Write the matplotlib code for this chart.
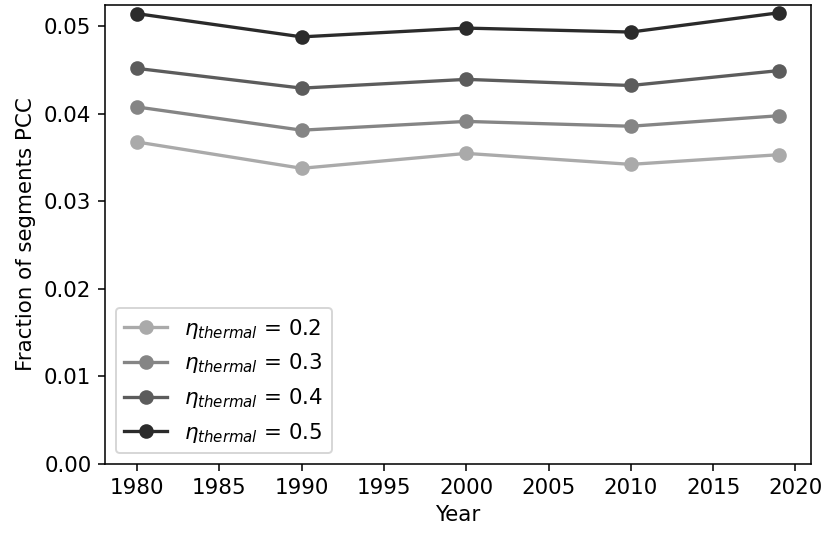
import matplotlib
matplotlib.use("Agg")
import matplotlib.pyplot as plt

years = [1980, 1990, 2000, 2010, 2019]
eta_values = [0.2, 0.3, 0.4, 0.5]
frac_02 = [0.03675, 0.03375, 0.03545, 0.03420, 0.03530]
frac_03 = [0.04075, 0.03810, 0.03910, 0.03855, 0.03975]
frac_04 = [0.04515, 0.04290, 0.04390, 0.04320, 0.04490]
frac_05 = [0.05140, 0.04875, 0.04975, 0.04930, 0.05150]
series = [frac_02, frac_03, frac_04, frac_05]
colors = ["#aaaaaa", "#858585", "#5c5c5c", "#2b2b2b"]

plt.rcParams["font.size"] = 11

dpi = 140
fig = plt.figure(figsize=(822 / dpi, 533 / dpi), dpi=dpi)
ax = fig.add_axes([105 / 822, 1 - 464 / 533, (811 - 105) / 822, (464 - 5) / 533])

for eta, vals, c in zip(eta_values, series, colors):
    ax.plot(years, vals, marker="o", color=c, lw=1.7, ms=6.5,
            label=r"$\eta_{thermal}$ = " + f"{eta}")

ax.set_ylim(bottom=0)
ax.set_xlabel("Year")
ax.set_ylabel("Fraction of segments PCC")
ax.legend(loc="lower left")

fig.savefig("out.png", dpi=dpi)
